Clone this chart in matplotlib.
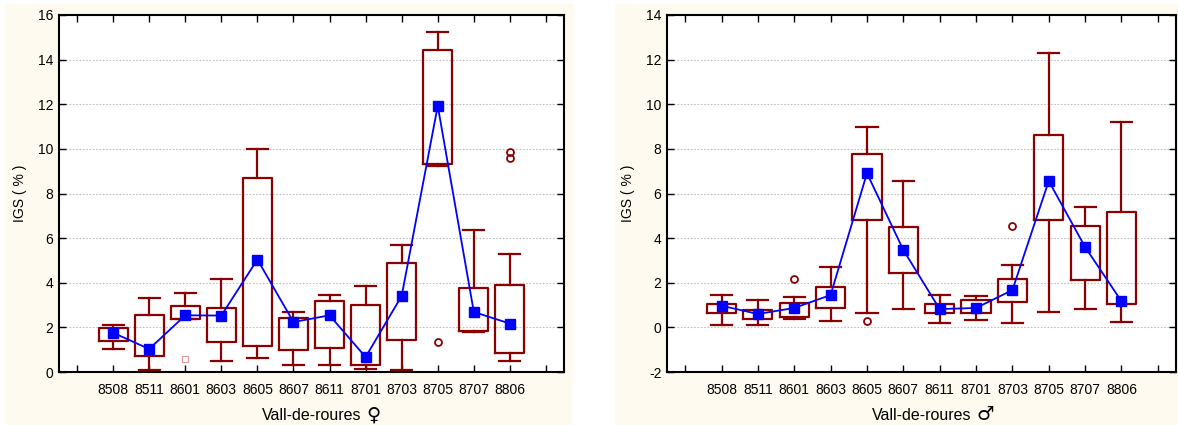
import matplotlib.pyplot as plt
from matplotlib.patches import Rectangle
from matplotlib.transforms import IdentityTransform

# Data
sites = ['8508', '8511', '8601', '8603', '8605', '8607',
         '8611', '8701', '8703', '8705', '8707', '8806']

# Femelles
f_whislo = [1.05, 0.10, 2.39, 0.49, 0.63, 0.33, 0.30, 0.15, 0.10, 9.22, 1.78, 0.49]
f_q1     = [1.37, 0.73, 2.39, 1.36, 1.17, 0.99, 1.06, 0.33, 1.42, 9.31, 1.84, 0.84]
f_q3     = [1.96, 2.56, 2.96, 2.88, 8.68, 2.42, 3.20, 3.00, 4.90, 14.41, 3.78, 3.92]
f_whishi = [2.12, 3.32, 3.56, 4.19, 10.01, 2.71, 3.44, 3.87, 5.68, 15.22, 6.37, 5.28]
f_center = [1.76, 1.03, 2.54, 2.53, 5.04, 2.24, 2.54, 0.67, 3.41, 11.93, 2.69, 2.17]
f_fliers = [[], [], [], [], [], [], [], [], [], [1.33], [], [9.58, 9.88]]
f_extreme = [[], [], [0.58], [], [], [], [], [], [], [], [], []]

# Mascles
m_whislo = [0.12, 0.10, 0.36, 0.27, 0.63, 0.84, 0.21, 0.34, 0.21, 0.70, 0.84, 0.22]
m_q1     = [0.64, 0.37, 0.48, 0.88, 4.81, 2.44, 0.66, 0.64, 1.14, 4.83, 2.11, 1.05]
m_q3     = [1.06, 0.79, 1.11, 1.82, 7.79, 4.50, 1.06, 1.24, 2.15, 8.62, 4.53, 5.17]
m_whishi = [1.46, 1.24, 1.38, 2.69, 9.00, 6.58, 1.43, 1.39, 2.81, 12.29, 5.41, 9.21]
m_center = [0.97, 0.60, 0.87, 1.45, 6.91, 3.47, 0.82, 0.87, 1.67, 6.56, 3.60, 1.17]
m_fliers = [[], [], [2.18], [], [0.30], [], [], [], [4.54], [], [], []]

DARKRED = '#8b0000'
CREAM = '#fffaef'

plt.rcParams['font.family'] = ['Liberation Sans', 'DejaVu Sans']
plt.rcParams['axes.unicode_minus'] = False


def draw_panel(ax, whislo, q1, q3, whishi, center, fliers, ylim, yticks, extreme=None):
    stats = []
    for i in range(len(sites)):
        stats.append(dict(whislo=whislo[i], q1=q1[i], med=center[i], q3=q3[i],
                          whishi=whishi[i], fliers=fliers[i]))
    pos = list(range(1, len(sites) + 1))
    ax.bxp(stats, positions=pos, widths=0.8, showcaps=True,
           boxprops=dict(color=DARKRED, linewidth=1.6),
           whiskerprops=dict(color=DARKRED, linewidth=1.6),
           capprops=dict(color=DARKRED, linewidth=1.6),
           medianprops=dict(linewidth=0),
           flierprops=dict(marker='o', markerfacecolor='none', markeredgecolor=DARKRED,
                           markersize=5, markeredgewidth=1.3),
           capwidths=0.58, zorder=2)
    if extreme:
        for i, vals in enumerate(extreme):
            for v in vals:
                ax.plot(pos[i], v, marker='s', markersize=5, markerfacecolor='none',
                        markeredgecolor='#d08080', markeredgewidth=0.8,
                        linestyle='none', alpha=0.8)
    ax.plot(pos, center, color='#0000ff', linewidth=1.3, marker='s',
            markersize=6.5, markerfacecolor='#0000ff', markeredgecolor='#0000ff', zorder=3)

    ax.set_xlim(-0.5, 13.5)
    ax.set_ylim(*ylim)
    ax.set_yticks(yticks)
    ax.set_xticks(range(0, 14))
    ax.set_xticklabels([''] + sites + [''])
    ax.tick_params(direction='in', top=True, right=True, length=5, width=1,
                   labelsize=10, pad=8)
    ax.tick_params(axis='y', pad=4)
    ax.yaxis.grid(True, linestyle=(0, (1.5, 1.5)), color='#c0c0c0', linewidth=0.8)
    ax.set_axisbelow(True)
    for s in ax.spines.values():
        s.set_linewidth(1.5)
    ax.set_ylabel('IGS ( % )', fontsize=10, labelpad=8)
    ax.set_xlabel('Vall-de-roures', fontsize=11.5, labelpad=8)


fig = plt.figure(figsize=(11.78, 4.25), dpi=100)
fig.patches.append(Rectangle((5 / 1178, 0), 568 / 1178, 421 / 425,
                             transform=fig.transFigure, facecolor=CREAM,
                             edgecolor='none', zorder=-10))
fig.patches.append(Rectangle((615 / 1178, 0), 563 / 1178, 421 / 425,
                             transform=fig.transFigure, facecolor=CREAM,
                             edgecolor='none', zorder=-10))

ax1 = fig.add_axes([59 / 1178, 53 / 425, 505 / 1178, 357 / 425])
ax2 = fig.add_axes([667 / 1178, 53 / 425, 509 / 1178, 357 / 425])

draw_panel(ax1, f_whislo, f_q1, f_q3, f_whishi, f_center, f_fliers,
           (0, 16), range(0, 17, 2), extreme=f_extreme)
draw_panel(ax2, m_whislo, m_q1, m_q3, m_whishi, m_center, m_fliers,
           (-2, 14), range(-2, 15, 2))

# sex symbol drawn larger, right after the axis label
fig.canvas.draw()
for ax, sym in [(ax1, '\u2640'), (ax2, '\u2642')]:
    bb = ax.xaxis.label.get_window_extent()
    fig.text(bb.x1 + 5, bb.y0 - 1, sym, transform=IdentityTransform(),
             fontsize=14, family='DejaVu Sans', ha='left', va='bottom')

fig.savefig('out.png', dpi=100)
